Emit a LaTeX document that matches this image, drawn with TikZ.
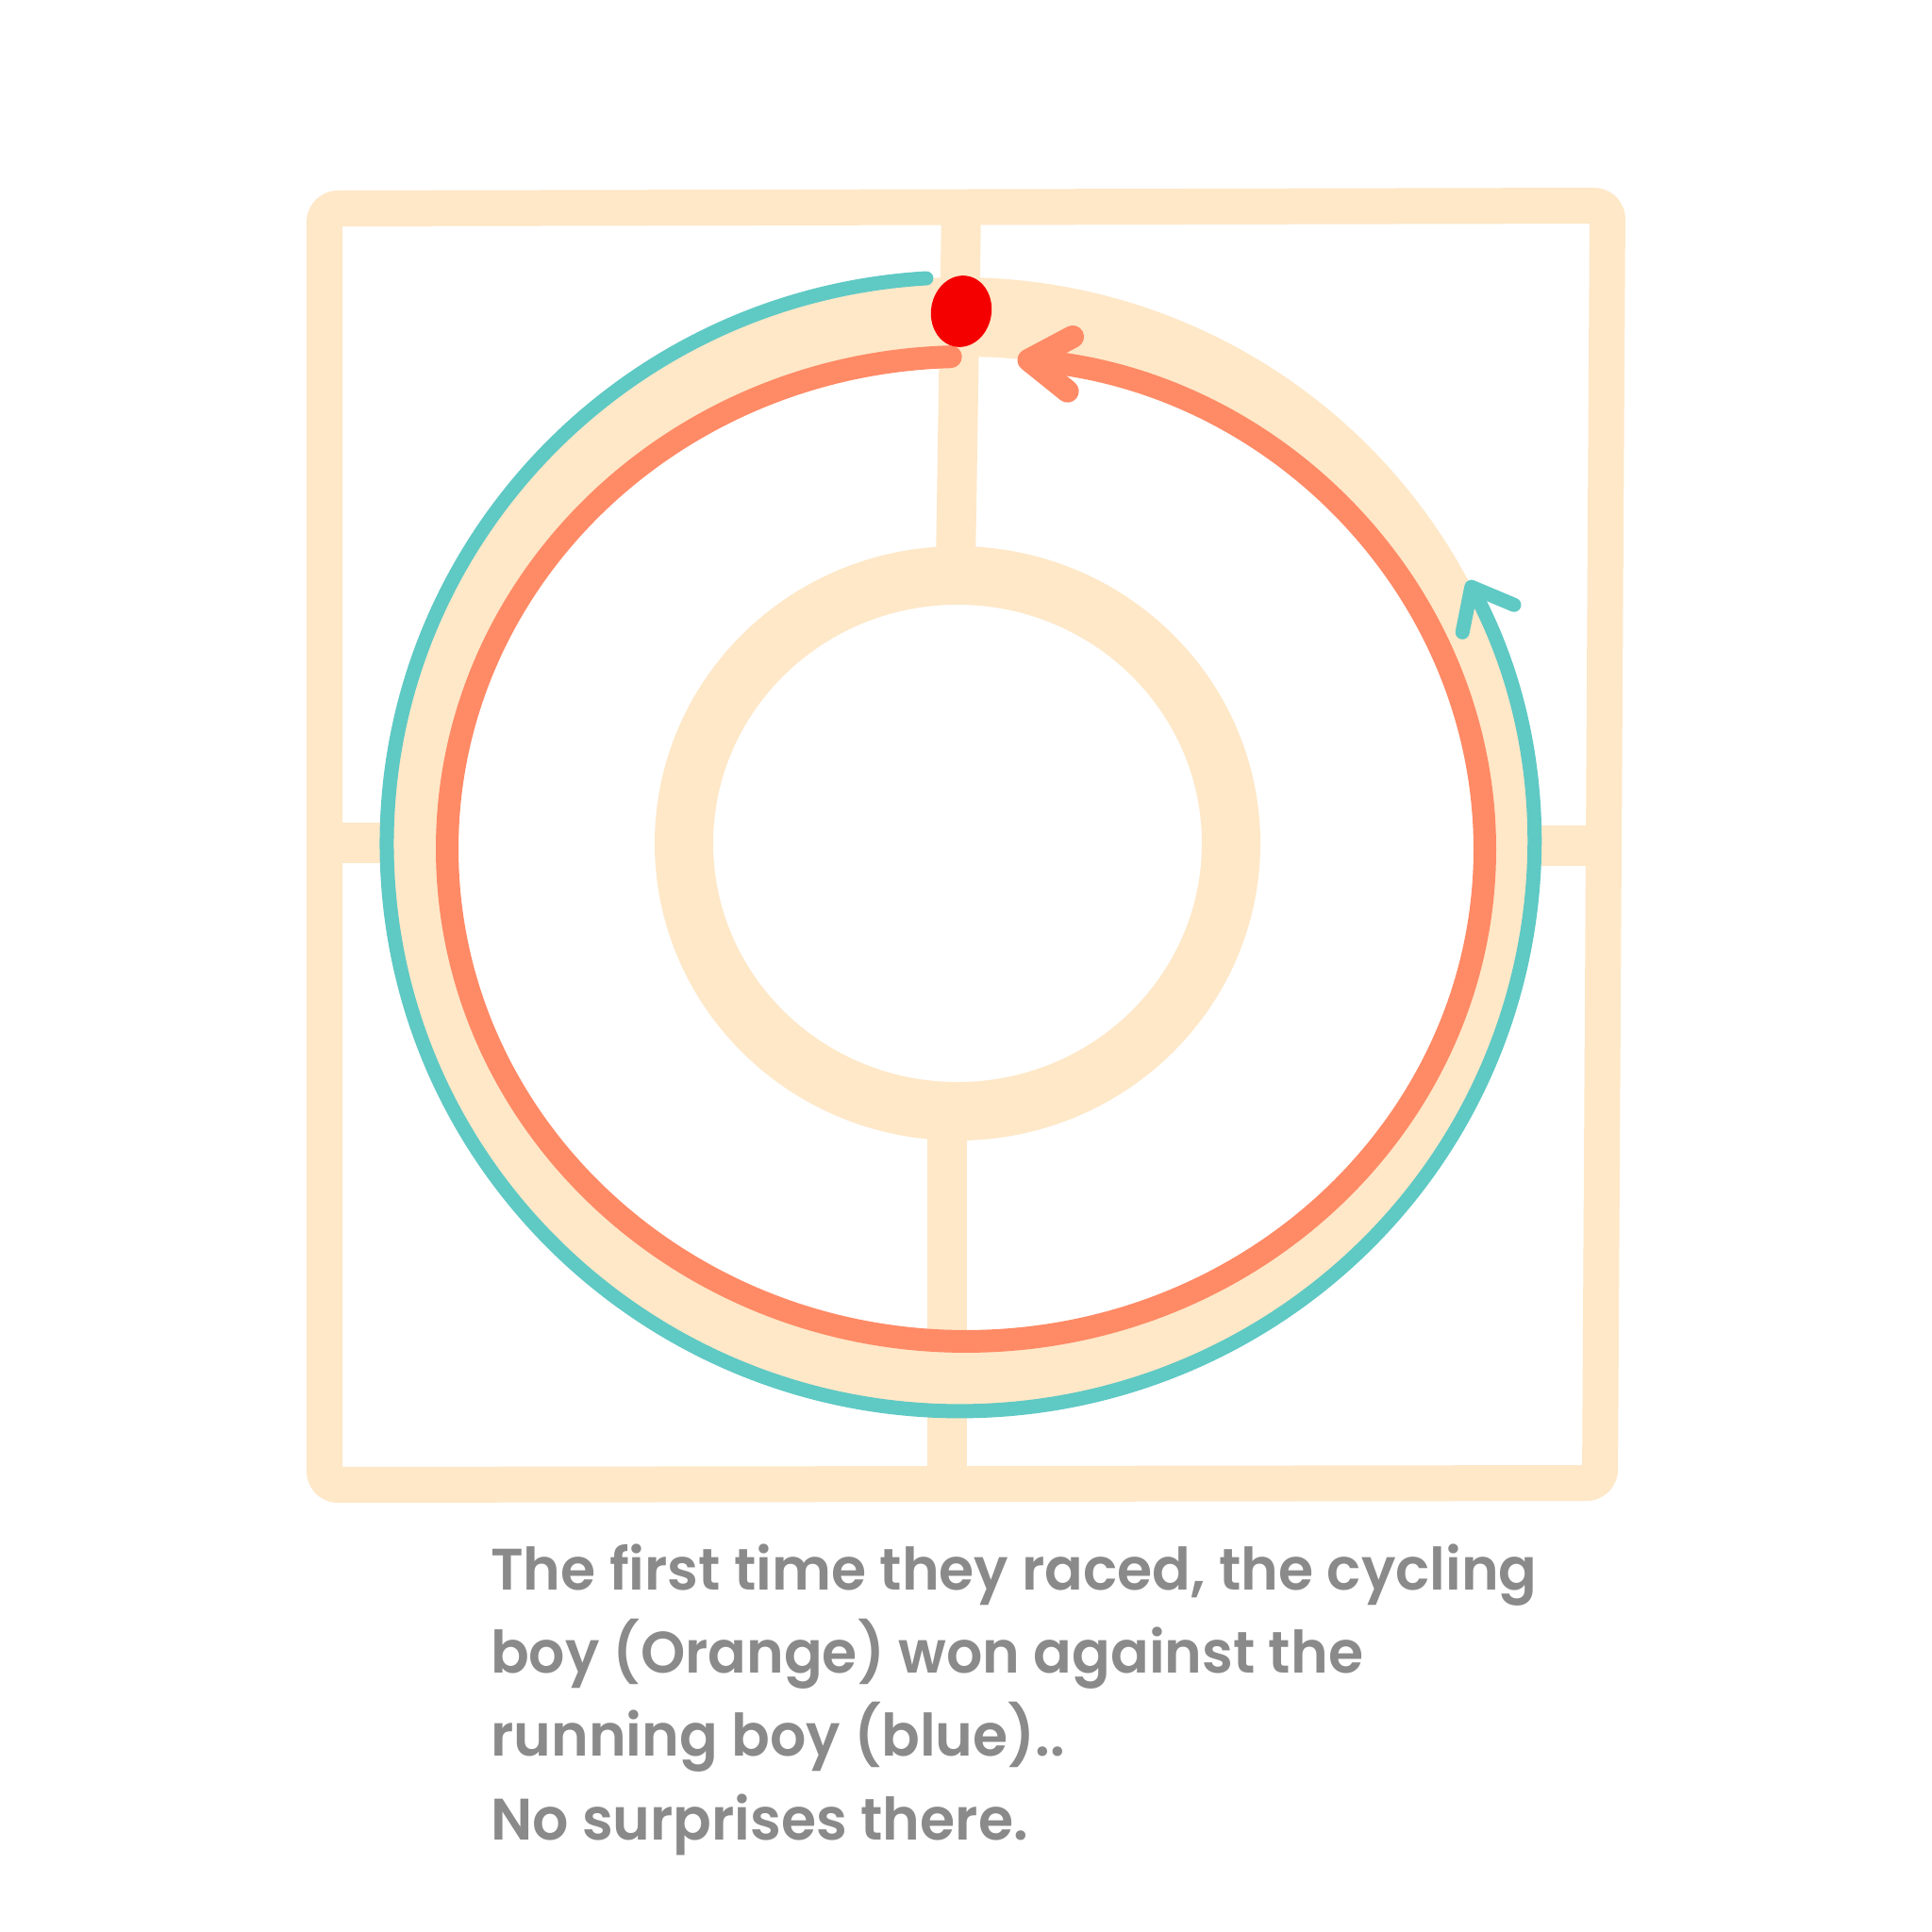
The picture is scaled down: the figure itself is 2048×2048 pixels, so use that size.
\documentclass[tikz,border=0pt]{standalone}
\usepackage{fontspec}
\newfontfamily\capfont{Poppins SemiBold}[FakeStretch=0.97]
\usetikzlibrary{arrows.meta}
\definecolor{peach}{RGB}{254,232,200}
\definecolor{runblue}{RGB}{95,201,196}
\definecolor{cycorange}{RGB}{255,138,102}
\definecolor{dotred}{RGB}{245,0,0}
\definecolor{capgrey}{RGB}{138,138,138}
\tikzset{
  wall/.style={draw=peach, line width=38pt, line cap=round, line join=round},
  bar/.style={draw=peach, line width=42pt},
  bluepath/.style={draw=runblue, line width=15pt, line cap=round},
  orangepath/.style={draw=cycorange, line width=24pt, line cap=round},
  caption/.style={anchor=base west, inner sep=0pt, text=capgrey, font=\capfont\fontsize{62}{89}\selectfont}
}
\begin{document}
\begin{tikzpicture}[x=1pt,y=-1pt]
\useasboundingbox (0,0) rectangle (2048,2048);
\fill[white] (0,0) rectangle (2048,2048);
% outer frame
\draw[wall, rounded corners=14pt] (344,221) -- (1704,218) -- (1696,1572) -- (344,1574) -- cycle;
% bars
\draw[bar] (1019,221) -- (1013,600);
\draw[bar] (1004,1200) -- (1004,1572);
\draw[draw=peach, line width=43pt] (344,893) -- (420,893);
\draw[draw=peach, line width=43pt] (1615,896) -- (1696,896);
% inner ring
\draw[draw=peach, line width=62pt] (1015,894) ellipse[x radius=290, y radius=284];
% track band
\fill[peach, even odd rule] (1018,895) ellipse[x radius=608, y radius=601]
                            (1024,900) ellipse[x radius=550, y radius=522];
% cycling boy (orange)
\draw[orangepath, -{Straight Barb[round, length=44pt, width=58pt]}]
  (1007.7,378.2) arc[start angle=268.3, end angle=-84.3, x radius=550, y radius=522];
% running boy (blue)
\draw[bluepath, -{Straight Barb[round, length=38pt, width=62pt]}]
  (981.9,295.0) arc[start angle=266.6, end angle=-27.7, x radius=608, y radius=601];
% red dot
\fill[dotred] (1019,330) ellipse[x radius=32, y radius=38, rotate=-10];
% caption
\node[caption] (l1) at (520,1685) {The first time they raced, the cycling};
\node[caption] (l2) at (520,1773) {boy (Orange) won against the};
\node[caption] (l3) at (520,1861) {running boy (blue)..};
\node[caption] (l4) at (520,1950) {No surprises there.};
\end{tikzpicture}
\end{document}
